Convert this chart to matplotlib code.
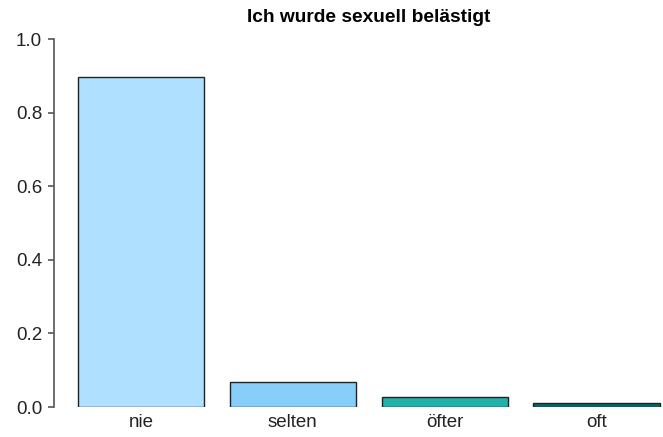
import matplotlib
matplotlib.use("Agg")
import matplotlib.pyplot as plt

categories = ["nie", "selten", "öfter", "oft"]
values = [0.896, 0.068, 0.027, 0.011]
colors = ["#B0E0FF", "#87CEFA", "#20B2AA", "#006B6B"]
title = "Ich wurde sexuell belästigt"
yticks = [0.0, 0.2, 0.4, 0.6, 0.8, 1.0]

plt.rcParams['font.family'] = ['Liberation Sans', 'DejaVu Sans']

fig = plt.figure(figsize=(6.63, 4.37), dpi=100)
ax = fig.add_axes([54/663, 1-407/437, 1-54/663, (407-39)/437])
x = list(range(len(categories)))
ax.bar(x, values, width=0.83, color=colors, edgecolor="#222222", linewidth=1.0)
ax.set_xlim(-0.573, 3.438)
ax.set_ylim(0, 1.0)
ax.set_yticks(yticks)
ax.set_yticklabels([f"{v:.1f}" for v in yticks], fontsize=13.5, color="#222222")
ax.set_xticks(x)
ax.set_xticklabels(categories, fontsize=13.5, color="#222222")
ax.tick_params(axis='x', length=0, pad=5)
ax.tick_params(axis='y', length=4.3, width=1.2, color="#555555", pad=4.3)
for s in ["top", "right", "bottom"]:
    ax.spines[s].set_visible(False)
ax.spines["left"].set_color("#555555")
ax.spines["left"].set_linewidth(1.2)
ax.spines["left"].set_bounds(0, 1)
ax.patch.set_alpha(0)
fig.text(369/663, 1-17/437, title, ha="center", va="center", fontsize=13.8, fontweight="bold")
fig.savefig("out.png", dpi=100)
